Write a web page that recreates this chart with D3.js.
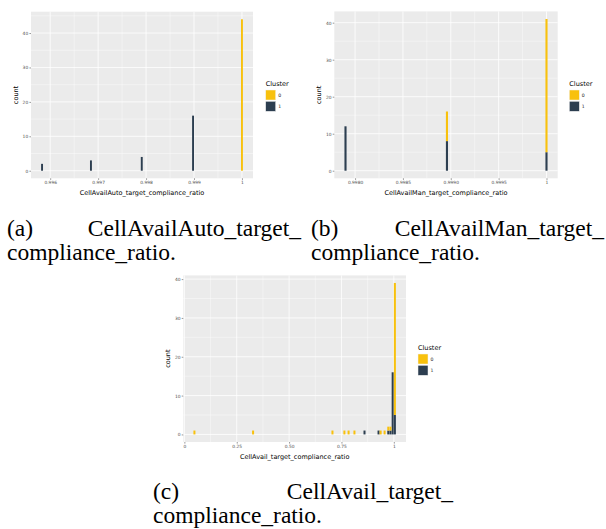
<!DOCTYPE html>
<html>
<head>
<meta charset="utf-8">
<script src="https://cdn.jsdelivr.net/npm/d3@7"></script>
<style>
  body { margin: 0; background: #fff; }
  svg { display: block; }
</style>
</head>
<body>
<div id="chart"></div>
<script>
// cluster legend
const clusterKeys = ["0", "1"];
const clusterColors = ["#F8C10D", "#2C3E50"];

// (a) CellAvailAuto
const autoBins = [0.99583, 0.99685, 0.99791, 0.99898, 1.0];
const autoCluster0 = [0, 0, 0, 0, 44];
const autoCluster1 = [2, 3, 4, 16, 0];
const autoXTicks = [0.996, 0.997, 0.998, 0.999, 1];
const autoXLabels = ["0.996", "0.997", "0.998", "0.999", "1"];
const autoYTicks = [0, 10, 20, 30, 40];

// (b) CellAvailMan
const manBins = [0.99790, 0.99896, 1.0];
const manCluster0 = [0, 8, 36];
const manCluster1 = [12, 8, 5];
const manXTicks = [0.998, 0.9985, 0.999, 0.9995, 1];
const manXLabels = ["0.9980", "0.9985", "0.9990", "0.9995", "1"];
const manYTicks = [0, 10, 20, 30, 40];

// (c) CellAvail
const availBins = [0.048, 0.328, 0.707, 0.764, 0.784, 0.812, 0.860, 0.927, 0.937, 0.956, 0.9735, 0.984, 0.9945, 1.005];
const availCluster0 = [1, 1, 1, 1, 1, 1, 0, 0, 1, 1, 1, 1, 0, 34];
const availCluster1 = [0, 0, 0, 0, 0, 0, 1, 1, 0, 0, 1, 1, 16, 5];
const availXTicks = [0, 0.25, 0.5, 0.75, 1];
const availXLabels = ["0", "0.25", "0.50", "0.75", "1"];
const availYTicks = [0, 10, 20, 30, 40];

const W = 606, H = 529;

const svg = d3.select("#chart").append("svg")
    .attr("width", W).attr("height", H);
svg.append("rect").attr("width", W).attr("height", H).attr("fill", "#fff");

const color = d3.scaleOrdinal().domain(clusterKeys).range(clusterColors);

function minorBreaks(ticks, domain) {
    const step = ticks[1] - ticks[0];
    const out = [];
    for (let i = -1; i < ticks.length; i++) {
        const v = ticks[0] + step * (i + 0.5);
        if (v > domain[0] && v < domain[1]) out.push(v);
    }
    return out;
}

function drawPanel(p) {
    const rows = p.bins.map((b, i) => ({x: b, "0": p.c0[i], "1": p.c1[i]}));
    const half = p.binWidth / 2;

    // ggplot style 5% expansion
    const xr = [d3.min(p.bins) - half, d3.max(p.bins) + half];
    const xe = (xr[1] - xr[0]) * 0.05;
    const ymax = d3.max(rows, d => d["0"] + d["1"]);
    const x = d3.scaleLinear().domain([xr[0] - xe, xr[1] + xe]).range([p.left, p.right]);
    const y = d3.scaleLinear().domain([-ymax * 0.05, ymax * 1.05]).range([p.bottom, p.top]);

    const g = svg.append("g");
    g.append("rect")
        .attr("x", p.left).attr("y", p.top)
        .attr("width", p.right - p.left).attr("height", p.bottom - p.top)
        .attr("fill", "#EBEBEB");

    // grid
    g.selectAll(".vmin").data(minorBreaks(p.xTicks, x.domain())).join("line")
        .attr("x1", d => x(d)).attr("x2", d => x(d))
        .attr("y1", p.top).attr("y2", p.bottom)
        .attr("stroke", "#fff").attr("stroke-width", 0.4);
    g.selectAll(".hmin").data(minorBreaks(p.yTicks, y.domain())).join("line")
        .attr("y1", d => y(d)).attr("y2", d => y(d))
        .attr("x1", p.left).attr("x2", p.right)
        .attr("stroke", "#fff").attr("stroke-width", 0.4);
    g.selectAll(".vmaj").data(p.xTicks).join("line")
        .attr("x1", d => x(d)).attr("x2", d => x(d))
        .attr("y1", p.top).attr("y2", p.bottom)
        .attr("stroke", "#fff").attr("stroke-width", 0.8);
    g.selectAll(".hmaj").data(p.yTicks).join("line")
        .attr("y1", d => y(d)).attr("y2", d => y(d))
        .attr("x1", p.left).attr("x2", p.right)
        .attr("stroke", "#fff").attr("stroke-width", 0.8);

    // stacked bars, cluster 1 at the bottom
    const stacked = d3.stack().keys(["1", "0"])(rows);
    g.selectAll(".layer").data(stacked).join("g")
        .attr("fill", d => color(d.key))
        .selectAll("rect").data(d => d.filter(s => s[1] > s[0])).join("rect")
        .attr("x", d => x(d.data.x - half))
        .attr("width", d => x(d.data.x + half) - x(d.data.x - half))
        .attr("y", d => y(d[1]))
        .attr("height", d => y(d[0]) - y(d[1]));

    // axes
    const xAxis = d3.axisBottom(x).tickValues(p.xTicks)
        .tickFormat((d, i) => p.xLabels[i]).tickSize(1.6).tickPadding(1.2);
    const yAxis = d3.axisLeft(y).tickValues(p.yTicks).tickSize(1.6).tickPadding(1.2);
    const ax = g.append("g").attr("transform", `translate(0,${p.bottom})`).call(xAxis);
    const ay = g.append("g").attr("transform", `translate(${p.left},0)`).call(yAxis);
    [ax, ay].forEach(a => {
        a.select(".domain").remove();
        a.selectAll("line").attr("stroke", "#333").attr("stroke-width", 0.5);
        a.selectAll("text").attr("fill", "#4D4D4D")
            .style("font-family", "DejaVu Sans").style("font-size", "4.4px");
    });

    g.append("text")
        .attr("x", (p.left + p.right) / 2).attr("y", p.bottom + 17)
        .attr("text-anchor", "middle")
        .style("font-family", "DejaVu Sans").style("font-size", "6.5px")
        .text(p.xTitle);
    g.append("text")
        .attr("transform", `translate(${p.left - 13.5},${(p.top + p.bottom) / 2}) rotate(-90)`)
        .attr("text-anchor", "middle")
        .style("font-family", "DejaVu Sans").style("font-size", "6.5px")
        .text("count");

    // legend
    const lg = g.append("g").attr("transform", `translate(${p.legendX},${p.legendY})`);
    lg.append("text").attr("x", 0).attr("y", 0)
        .style("font-family", "DejaVu Sans").style("font-size", "6.5px")
        .text("Cluster");
    clusterKeys.forEach((k, i) => {
        lg.append("rect")
            .attr("x", 0).attr("y", 4 + i * 11.3)
            .attr("width", 10).attr("height", 10)
            .attr("fill", color(k))
            .attr("stroke", "#F2F2F2").attr("stroke-width", 0.5);
        lg.append("text")
            .attr("x", 12.5).attr("y", 9 + i * 11.3)
            .attr("dominant-baseline", "central")
            .style("font-family", "DejaVu Sans").style("font-size", "4.6px")
            .attr("fill", "#1a1a1a")
            .text(k);
    });
}

drawPanel({
    bins: autoBins, c0: autoCluster0, c1: autoCluster1, binWidth: 0.00004,
    xTicks: autoXTicks, xLabels: autoXLabels, yTicks: autoYTicks,
    left: 31, right: 253, top: 11.7, bottom: 178.3,
    xTitle: "CellAvailAuto_target_compliance_ratio",
    legendX: 265.7, legendY: 86
});
drawPanel({
    bins: manBins, c0: manCluster0, c1: manCluster1, binWidth: 0.000022,
    xTicks: manXTicks, xLabels: manXLabels, yTicks: manYTicks,
    left: 334.3, right: 557.7, top: 11.4, bottom: 178.3,
    xTitle: "CellAvailMan_target_compliance_ratio",
    legendX: 569.3, legendY: 86
});
drawPanel({
    bins: availBins, c0: availCluster0, c1: availCluster1, binWidth: 0.0096,
    xTicks: availXTicks, xLabels: availXLabels, yTicks: availYTicks,
    left: 183.3, right: 406, top: 275.4, bottom: 442,
    xTitle: "CellAvail_target_compliance_ratio",
    legendX: 418, legendY: 350
});

// sub-figure captions
const captions = [
    {tag: "(a)", head: "CellAvailAuto_target_", tail: "compliance_ratio.", x0: 7, x1: 301, y: 236},
    {tag: "(b)", head: "CellAvailMan_target_", tail: "compliance_ratio.", x0: 311, x1: 604, y: 236},
    {tag: "(c)", head: "CellAvail_target_", tail: "compliance_ratio.", x0: 153, x1: 453, y: 499}
];
captions.forEach(c => {
    const t = svg.append("g")
        .style("font-family", "Liberation Serif").style("font-size", "23.5px")
        .attr("fill", "#000");
    t.append("text").attr("x", c.x0).attr("y", c.y).text(c.tag);
    t.append("text").attr("x", c.x1).attr("y", c.y).attr("text-anchor", "end").text(c.head);
    t.append("text").attr("x", c.x0).attr("y", c.y + 24).text(c.tail);
});
</script>
</body>
</html>
